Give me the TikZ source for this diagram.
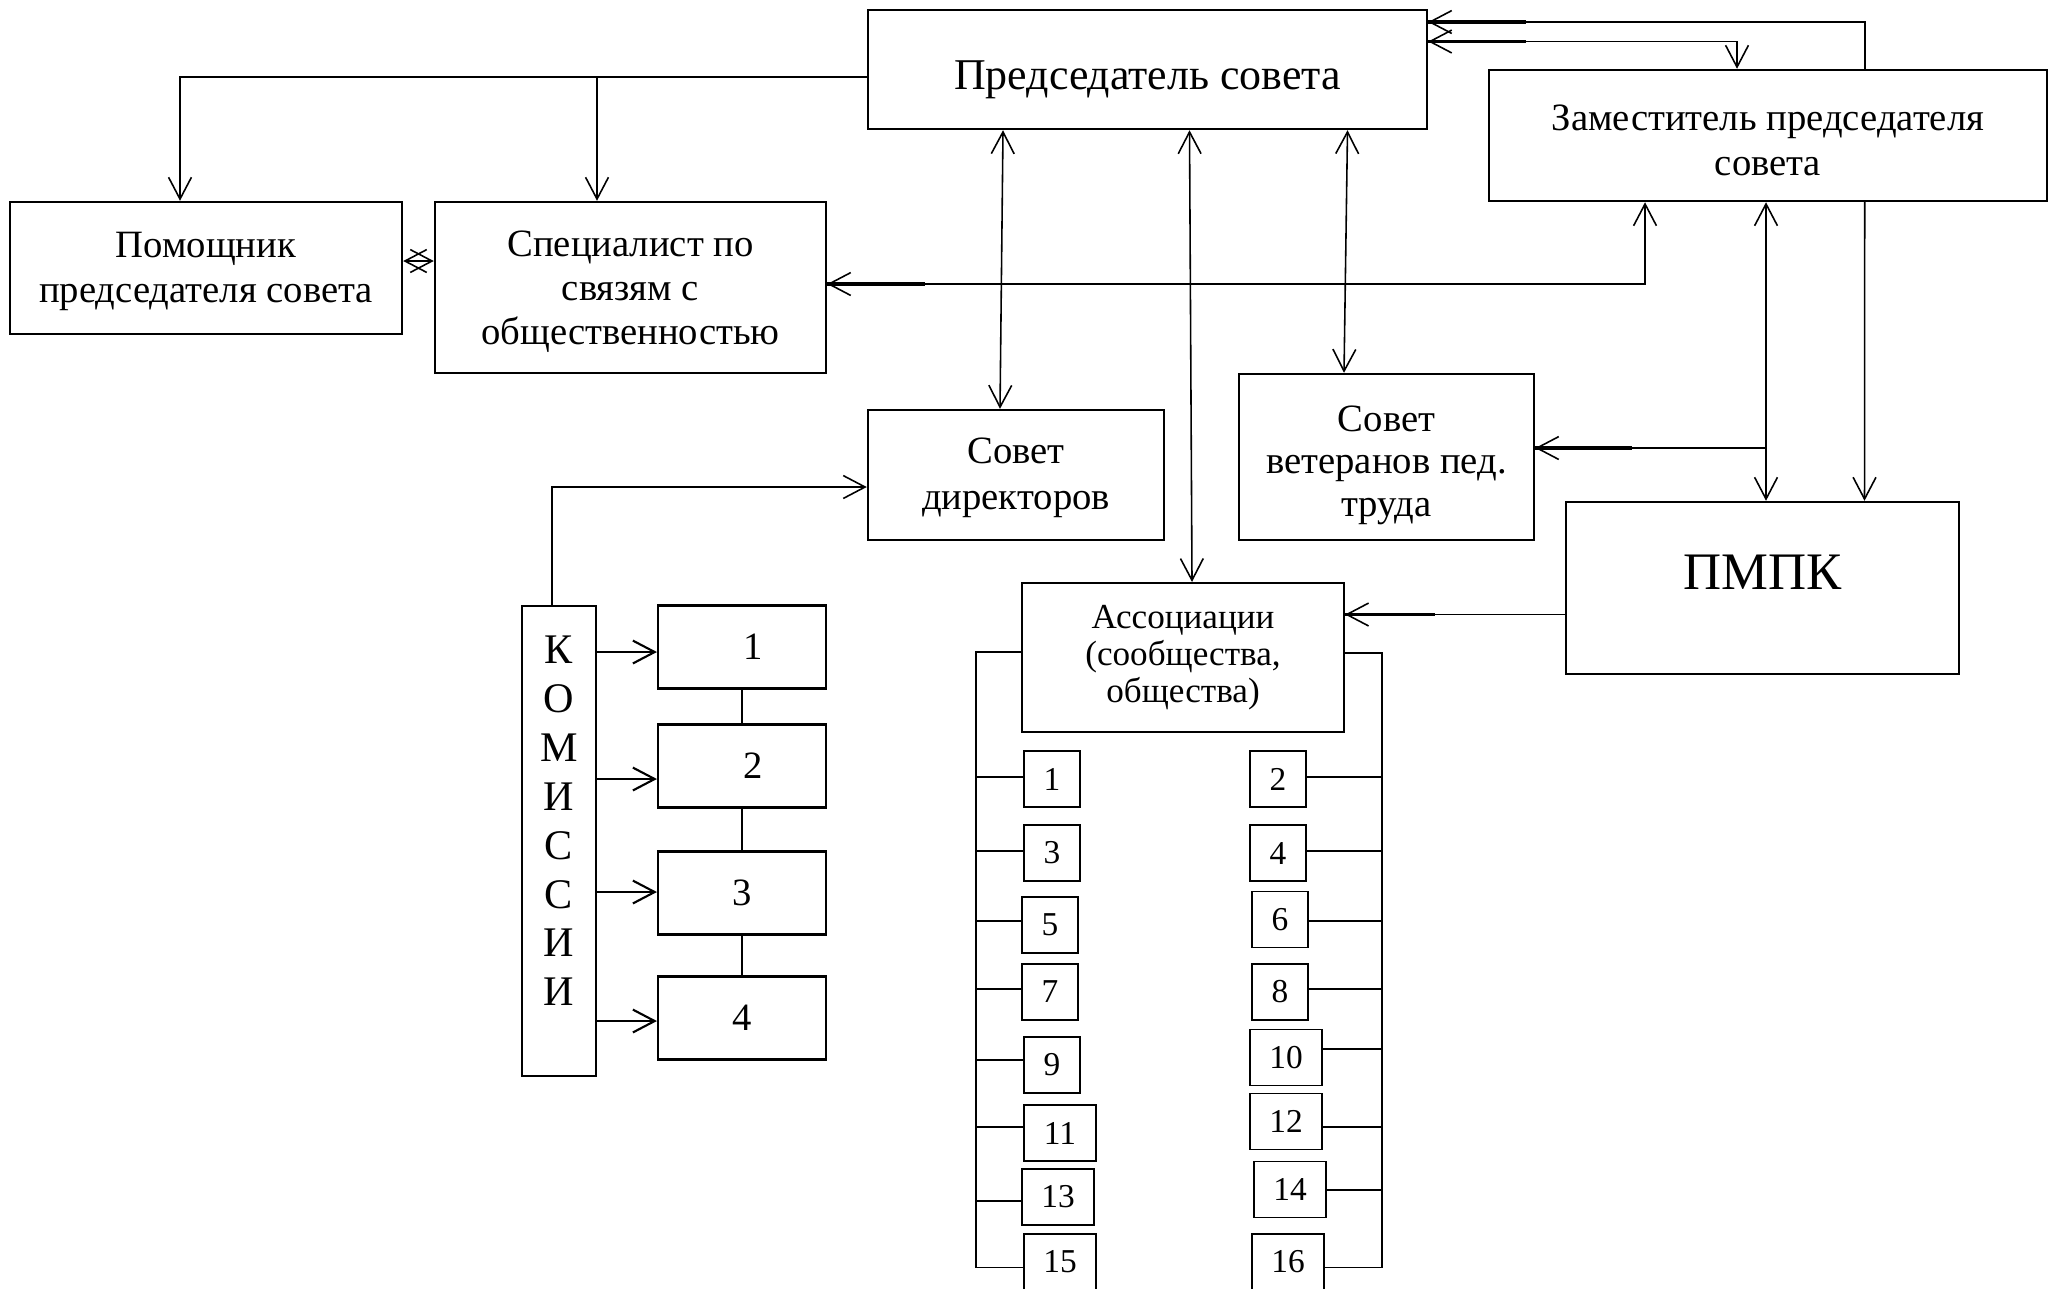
\documentclass[tikz,border=0pt]{standalone}
\usepackage{fontspec}
\setmainfont{Liberation Serif}
\usetikzlibrary{arrows.meta}
\newcommand{\boxtext}[2]{\raisebox{#1}[\height][\depth]{\begin{tabular}{@{}c@{}}#2\end{tabular}}}

\begin{document}
\begin{tikzpicture}[x=0.1mm,y=-0.1mm,
  box/.style={draw,line width=0.7pt,align=center,inner sep=0pt,font=\fontsize{11}{12.6}\selectfont},
  cbox/.style={draw,line width=0.6pt,inner sep=0pt,minimum width=16.8mm,minimum height=8.3mm,font=\fontsize{11}{12}\selectfont},
  num/.style={draw,line width=0.5pt,inner sep=0pt,minimum height=5.6mm,font=\fontsize{9.5}{10}\selectfont},
  conn/.style={line width=0.45pt},
  stub/.style={line width=1.1pt},
  >={Straight Barb[length=6.2pt,width=6.5pt]}]

\useasboundingbox (0,0) rectangle (2060,1288);
\clip (0,0) rectangle (2060,1288);

\node[box,minimum width=55.9mm,minimum height=11.9mm,font=\fontsize{12.5}{14}\selectfont] (chair) at (1147.5,69.5) {\raisebox{-1.05mm}[\height][\depth]{Председатель совета}};
\node[box,minimum width=55.8mm,minimum height=13.1mm] (deputy) at (1768,135.5) {\boxtext{-0.85mm}{Заместитель председателя\\совета}};
\node[box,minimum width=39.2mm,minimum height=13.2mm,font=\fontsize{11}{12.8}\selectfont] (helper) at (206,268) {\boxtext{-0.26mm}{Помощник\\председателя совета}};
\node[box,minimum width=39.1mm,minimum height=17.1mm] (pr) at (630.5,287.5) {\boxtext{-0.4mm}{Специалист по\\связям с\\общественностью}};
\node[box,minimum width=29.6mm,minimum height=13.0mm,font=\fontsize{11}{13}\selectfont] (directors) at (1016,475) {\boxtext{-0.26mm}{Совет\\директоров}};
\node[box,minimum width=29.5mm,minimum height=16.6mm,font=\fontsize{11}{12.1}\selectfont] (veterans) at (1386.5,457) {\boxtext{-0.8mm}{Совет\\ветеранов пед.\\труда}};
\node[box,minimum width=39.3mm,minimum height=17.2mm,font=\fontsize{15}{16}\selectfont] (pmpk) at (1762.5,588) {\raisebox{1.55mm}[\height][\depth]{ПМПК}};
\node[box,line width=0.6pt,minimum width=32.2mm,minimum height=14.9mm,font=\fontsize{10}{10.5}\selectfont] (assoc) at (1183,657.5) {Ассоциации\\(сообщества,\\общества)};
\node[box,line width=0.6pt,minimum width=7.4mm,minimum height=47.0mm] (commis) at (559,841)
  {\raisebox{2mm}[\height][\depth]{\parbox{6mm}{\centering\fontsize{12}{13.9}\selectfont К\\О\\М\\И\\С\\С\\И\\И}}};

\foreach \n/\y/\t in {1/647/\hspace{2.2mm}1,2/766/\hspace{2.2mm}2,3/893/3,4/1018/4}
  \node[cbox] (c\n) at (742,\y) {\t};

\foreach \n/\x/\y/\w in {1/1052/779/5.6,3/1052/853/5.6,5/1050/925/5.6,7/1050/992/5.6,
    9/1052/1065/5.6,11/1060/1133/7.2,13/1058/1197/7.2,15/1060/1262/7.2,
    2/1278/779/5.6,4/1278/853/5.6,6/1280/919.5/5.6,8/1280/992/5.6,
    10/1286/1057.5/7.2,12/1286/1121.5/7.2,14/1290/1189.5/7.2,16/1288/1262/7.2}
  \node[num,minimum width=\w mm] (a\n) at (\x,\y) {\n};

\coordinate (prtop) at ([xshift=-3.35mm]pr.north);
\coordinate (lbus) at (976,652);
\coordinate (rbus) at (1382,653);

\draw[conn,->] (chair.west |- 0,77) -| ([xshift=-2.6mm]helper.north);
\draw[conn,->] (prtop |- 0,77) -- (prtop);
\draw[conn,<->] (helper.east |- 0,261) -- (pr.west |- 0,261);

\draw[conn,<->] (pr.east |- 0,284) -| ([xshift=-12.3mm]deputy.south);
\draw[stub] (pr.east |- 0,284) -- ++(98,0);

\draw[conn,<->] ([xshift=-14.45mm]chair.south) -- ([xshift=-1.6mm]directors.north);
\draw[conn,<->] ([xshift=4.2mm]chair.south) -- ([xshift=0.9mm]assoc.north);
\draw[conn,<->] ([xshift=20mm]chair.south) -- ([xshift=-4.25mm]veterans.north);

\draw[conn,->] ([xshift=9.67mm]deputy.north) |- (chair.east |- 0,22);
\draw[stub] (chair.east |- 0,22) -- ++(98,0);
\draw[conn,<->] (chair.east |- 0,41.5) -| ([xshift=-3.1mm]deputy.north);
\draw[stub] (chair.east |- 0,41.5) -- ++(98,0);

\draw[conn,<->] ([xshift=-0.2mm]deputy.south) -- ([xshift=0.35mm]pmpk.north);
\draw[conn,->] ([xshift=9.67mm]deputy.south) -- ([xshift=10.2mm]pmpk.north);
\draw[conn,->] (1766,448) -- (veterans.east |- 0,448);
\draw[stub] (veterans.east |- 0,448) -- ++(97,0);

\draw[conn,->] (pmpk.west |- 0,614.5) -- (assoc.east |- 0,614.5);
\draw[stub] (assoc.east |- 0,614.5) -- ++(90,0);

\draw[conn,->] ([xshift=-0.7mm]commis.north) |- (directors.west |- 0,487);
\foreach \n/\y in {1/652,2/779,3/892,4/1021}
  \draw[line width=0.6pt,->] (commis.east |- 0,\y) -- (c\n.west |- 0,\y);
\draw[conn] (c1.south) -- (c2.north);
\draw[conn] (c2.south) -- (c3.north);
\draw[conn] (c3.south) -- (c4.north);

\draw[conn] (assoc.west |- lbus) -- (lbus) -- (lbus |- 0,1267.5) -- (a15.west |- 0,1267.5);
\draw[conn] (assoc.east |- rbus) -- (rbus) -- (rbus |- 0,1267.5) -- (a16.east |- 0,1267.5);
\foreach \n/\y in {1/777,3/851,5/921,7/989,9/1060,11/1127,13/1201}
  \draw[conn] (lbus |- 0,\y) -- (a\n.west |- 0,\y);
\foreach \n/\y in {2/777,4/851,6/921,8/989,10/1049,12/1127,14/1190}
  \draw[conn] (a\n.east |- 0,\y) -- (rbus |- 0,\y);

\end{tikzpicture}
\end{document}
